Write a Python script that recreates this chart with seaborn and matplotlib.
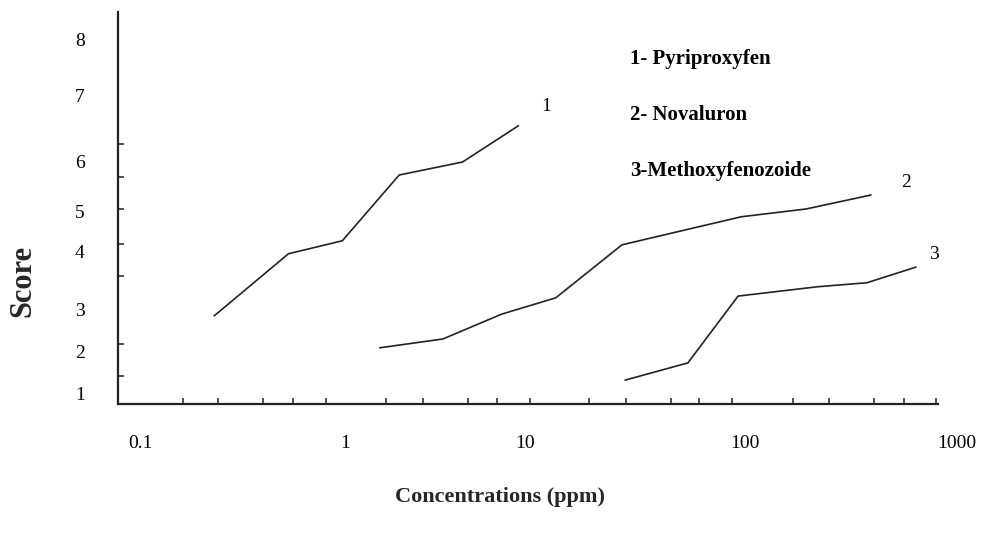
import numpy as np
import pandas as pd
import matplotlib
matplotlib.use("Agg")
import matplotlib.pyplot as plt
import seaborn as sns
from matplotlib.ticker import FixedLocator, NullFormatter

# Datos (concentracion en ppm, puntuacion)
conc_pyri = [0.23, 0.53, 0.97, 2.0, 4.5, 9.2]
score_pyri = [2.86, 3.97, 4.28, 5.74, 6.0, 6.55]

conc_nova = [1.56, 3.5, 7.4, 13.8, 27.6, 96, 194, 393]
score_nova = [2.1, 2.31, 2.9, 3.21, 4.18, 4.88, 5.06, 5.34]

conc_meth = [28.5, 55, 93, 219, 376, 641]
score_meth = [1.33, 1.74, 3.24, 3.40, 3.47, 3.74]

series_names = ["1- Pyriproxyfen", "2- Novaluron", "3-Methoxyfenozoide"]
series_tags = ["1", "2", "3"]

x_tick_vals = [0.1, 1, 10, 100, 1000]
x_tick_labels = ["0.1", "1", "10", "100", "1000"]
x_minor_vals = [0.162, 0.24, 0.398, 0.557, 0.81, 1.7, 2.7, 4.8, 7.0, 10.5,
                19.5, 28.8, 46, 62, 87, 168, 249, 405, 562, 796]
y_tick_vals = [1, 2, 3, 4, 5, 6, 7, 8]
y_minor_vals = [1.43, 2.19, 3.0, 3.59, 4.2, 5.06, 5.7, 6.27]

# el eje dibujado a mano no es regular: escala por tramos entre las etiquetas
x_decades = [-2, -1, 0, 1, 2, 3, 4]
x_anchor = [-65, 140, 345, 525, 745, 957, 1169]
y_levels = [0, 1, 2, 3, 4, 5, 6, 7, 8, 9]
y_anchor = [436, 394, 352, 310, 252, 212, 162, 96, 40, -16]


def x_fwd(x):
    x = np.clip(np.asarray(x, dtype=float), 1e-6, None)
    return np.interp(np.log10(x), x_decades, x_anchor)


def x_inv(v):
    return 10 ** np.interp(v, x_anchor, x_decades)


def y_fwd(s):
    return -np.interp(s, y_levels, y_anchor)


def y_inv(v):
    return np.interp(-np.asarray(v, dtype=float), y_anchor[::-1], y_levels[::-1])


df = pd.concat([
    pd.DataFrame({"conc": conc_pyri, "score": score_pyri, "serie": series_names[0]}),
    pd.DataFrame({"conc": conc_nova, "score": score_nova, "serie": series_names[1]}),
    pd.DataFrame({"conc": conc_meth, "score": score_meth, "serie": series_names[2]}),
])

sns.set_style("ticks")
plt.rcParams["font.family"] = ["Liberation Serif", "DejaVu Serif"]
plt.rcParams["text.color"] = "black"

fig = plt.figure(figsize=(9.82, 5.34), dpi=100)
ax = fig.add_axes([118 / 982, (534 - 404) / 534, (980 - 118) / 982, (404 - 12) / 534])

ax.set_xscale("function", functions=(x_fwd, x_inv))
ax.set_yscale("function", functions=(y_fwd, y_inv))

sns.lineplot(data=df, x="conc", y="score", hue="serie", units="serie",
             estimator=None, sort=False, palette=["#222222"] * 3,
             linewidth=1.2, legend=False, ax=ax)

ax.set_xlim(x_inv(118), x_inv(980))
ax.set_ylim(y_inv(-404), y_inv(-12))

ax.xaxis.set_major_locator(FixedLocator(x_tick_vals))
ax.set_xticklabels(x_tick_labels)
ax.xaxis.set_minor_locator(FixedLocator(x_minor_vals))
ax.xaxis.set_minor_formatter(NullFormatter())
ax.yaxis.set_major_locator(FixedLocator(y_tick_vals))
ax.set_yticklabels([str(v) for v in y_tick_vals])
ax.yaxis.set_minor_locator(FixedLocator(y_minor_vals))
ax.yaxis.set_minor_formatter(NullFormatter())

ax.tick_params(axis="x", which="major", length=0, pad=22, labelsize=14,
               labelcolor="black")
ax.tick_params(axis="y", which="major", length=0, pad=24, labelsize=14,
               labelcolor="black")
ax.tick_params(which="minor", direction="in", length=4, width=1.1, color="#222222")

sns.despine(ax=ax)
ax.spines["bottom"].set_bounds(x_inv(118), x_inv(938))
for side in ["left", "bottom"]:
    ax.spines[side].set_linewidth(1.6)
    ax.spines[side].set_color("#222222")

ax.set_xlabel("Concentrations (ppm)", fontsize=16, fontweight="bold")
ax.xaxis.set_label_coords((500 - 118) / 862, (404 - 487) / 392)
ax.set_ylabel("Score", fontsize=22, fontweight="bold")
ax.yaxis.set_label_coords((37 - 118) / 862, (404 - 281) / 392)

# numeros al final de cada curva
ends = [(conc_pyri[-1], score_pyri[-1], (20, 14)),
        (conc_nova[-1], score_nova[-1], (25, 9)),
        (conc_meth[-1], score_meth[-1], (13, 9))]
for tag, (cx, cy, off) in zip(series_tags, ends):
    ax.annotate(tag, xy=(cx, cy), xytext=off, textcoords="offset points",
                ha="center", va="center", fontsize=14)

# leyenda escrita a mano en la esquina
for i, name in enumerate(series_names):
    fig.text(630 / 982, 1 - (59 + 56 * i) / 534, name, fontsize=15,
             fontweight="bold", va="center", ha="left")

fig.savefig("out.png", dpi=100, facecolor="white")
